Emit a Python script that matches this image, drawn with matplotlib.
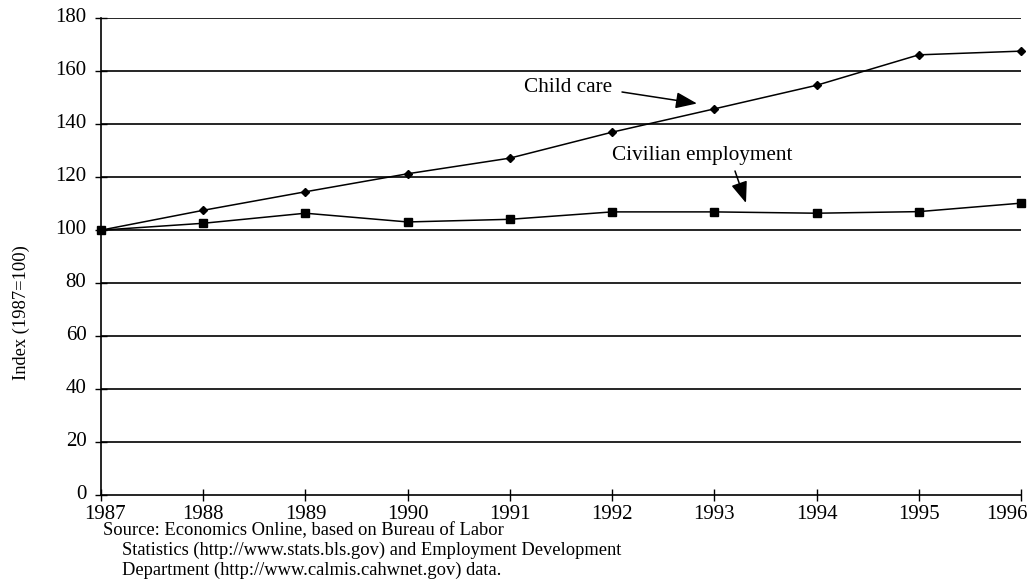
import matplotlib
matplotlib.use("Agg")
import matplotlib.pyplot as plt
from matplotlib.transforms import ScaledTranslation

years = [1987, 1988, 1989, 1990, 1991, 1992, 1993, 1994, 1995, 1996]
child_care = [100, 107.5, 114.5, 121.3, 127.2, 137.0, 145.8, 154.7, 166.2, 167.6]
civilian = [100, 102.6, 106.4, 103.1, 104.1, 106.9, 106.9, 106.4, 107.0, 110.2]
yticks = [0, 20, 40, 60, 80, 100, 120, 140, 160, 180]

plt.rcParams['font.family'] = ['Liberation Serif', 'DejaVu Serif']

W, H = 1033, 584
fig = plt.figure(figsize=(W / 100, H / 100), dpi=100)
ax = fig.add_axes([101 / W, 1 - 495 / H, (1021 - 101) / W, (495 - 18.3) / H])

for t in yticks[1:]:
    ax.axhline(t, color='black', lw=1.2, zorder=1)

ax.plot(years, child_care, color='black', lw=1.1, marker='D', markersize=4.5, zorder=3, clip_on=False)
ax.plot(years, civilian, color='black', lw=1.1, marker='s', markersize=6.3, zorder=3, clip_on=False)

ax.set_xlim(1987, 1996)
ax.set_ylim(0, 180)
ax.set_xticks(years)
ax.set_yticks(yticks)
ax.tick_params(direction='inout', length=9, width=1, labelsize=15, colors='black')
ax.tick_params(axis='x', pad=2.5)
ax.tick_params(axis='y', pad=6)
for s in ['top', 'right']:
    ax.spines[s].set_visible(False)
ax.spines['left'].set_linewidth(1.2)
ax.spines['bottom'].set_linewidth(1.2)

# keep the end labels inside the picture like the reference
xl = ax.get_xticklabels()
xl[-1].set_transform(xl[-1].get_transform() + ScaledTranslation(-14 / 100, 0, fig.dpi_scale_trans))
xl[0].set_transform(xl[0].get_transform() + ScaledTranslation(4 / 100, 0, fig.dpi_scale_trans))
for lab in ax.get_yticklabels():
    lab.set_transform(lab.get_transform() + ScaledTranslation(0, 3 / 100, fig.dpi_scale_trans))

def px(x, y):
    return ax.transData.inverted().transform(fig.transFigure.transform((x / W, 1 - y / H)))

ap = dict(arrowstyle='-|>,head_length=1.3,head_width=0.5', color='black', lw=1.1,
          shrinkA=0, shrinkB=0, mutation_scale=10)

p = px(524, 92)
ax.text(p[0], p[1], 'Child care', fontsize=15.3, ha='left', va='baseline')
ax.annotate('', xy=px(697, 103.5), xytext=px(622, 92), arrowprops=ap)
p = px(612, 160)
ax.text(p[0], p[1], 'Civilian employment', fontsize=15.3, ha='left', va='baseline')
ax.annotate('', xy=px(746, 203), xytext=px(735, 171), arrowprops=ap)

fig.text(21 / W, 1 - 313 / H, 'Index (1987=100)', rotation=90, fontsize=13.3, ha='center', va='center')

fig.text(103 / W, 1 - 535 / H, 'Source: Economics Online, based on Bureau of Labor', fontsize=13.3, ha='left', va='baseline')
fig.text(122 / W, 1 - 555 / H, 'Statistics (http://www.stats.bls.gov) and Employment Development', fontsize=13.3, ha='left', va='baseline')
fig.text(122 / W, 1 - 574.5 / H, 'Department (http://www.calmis.cahwnet.gov) data.', fontsize=13.3, ha='left', va='baseline')

fig.savefig('out.png', dpi=100)
